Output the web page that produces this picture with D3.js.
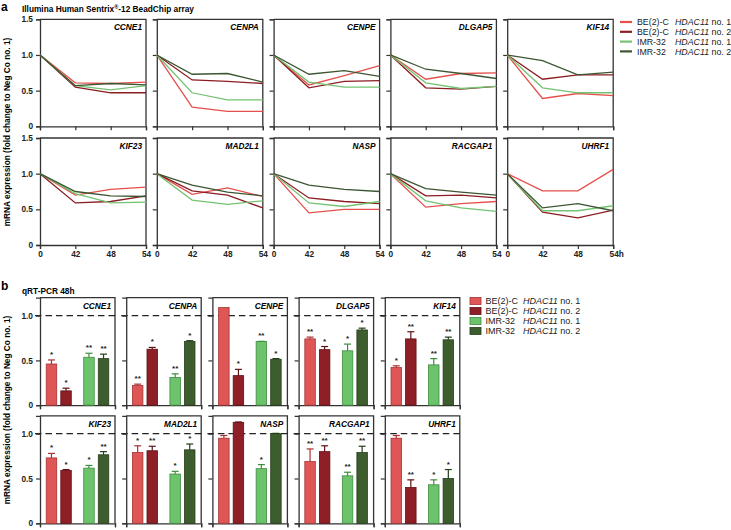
<!DOCTYPE html>
<html><head><meta charset="utf-8">
<script src="https://cdn.jsdelivr.net/npm/d3@7"></script>
<style>body{margin:0;background:#fff}svg{display:block;font-family:"Liberation Sans",Arial,sans-serif}</style>
</head><body><svg id="c" width="731" height="530"></svg>
<script>
// ---------- DATA ----------
const genes = ["CCNE1","CENPA","CENPE","DLGAP5","KIF14","KIF23","MAD2L1","NASP","RACGAP1","UHRF1"];
const timepoints = ["0","42","48","54"];
const cellLines = ["BE(2)-C","BE(2)-C","IMR-32","IMR-32"];
const constructs = ["no. 1","no. 2","no. 1","no. 2"];
const seriesKeys = ["BE1","BE2","IMR1","IMR2"];
// Panel a: array time course (fold change), one row per gene, values at 0/42/48/54 h
const arrayBE1  = [[1,0.61,0.60,0.62],[1,0.27,0.21,0.21],[1,0.58,0.71,0.85],[1,0.66,0.74,0.75],[1,0.39,0.46,0.43],[1,0.70,0.78,0.81],[1,0.71,0.80,0.68],[1,0.45,0.50,0.50],[1,0.53,0.58,0.61],[1,0.76,0.76,1.06]];
const arrayBE2  = [[1,0.55,0.47,0.47],[1,0.65,0.63,0.60],[1,0.54,0.63,0.64],[1,0.54,0.52,0.56],[1,0.66,0.72,0.72],[1,0.59,0.61,0.69],[1,0.76,0.70,0.52],[1,0.66,0.61,0.58],[1,0.69,0.70,0.66],[1,0.46,0.38,0.49]];
const arrayIMR1 = [[1,0.57,0.51,0.57],[1,0.47,0.37,0.37],[1,0.62,0.55,0.55],[1,0.61,0.53,0.56],[1,0.54,0.47,0.47],[1,0.72,0.59,0.60],[1,0.63,0.57,0.62],[1,0.59,0.54,0.61],[1,0.62,0.52,0.47],[1,0.48,0.48,0.55]];
const arrayIMR2 = [[1,0.57,0.60,0.58],[1,0.73,0.74,0.62],[1,0.73,0.78,0.70],[1,0.80,0.74,0.67],[1,0.92,0.72,0.76],[1,0.75,0.69,0.68],[1,0.84,0.74,0.69],[1,0.84,0.78,0.75],[1,0.79,0.74,0.70],[1,0.52,0.58,0.48]];
// Panel b: qRT-PCR 48h means, SEM and significance
const pcrBE1  = [0.46,0.22,1.09,0.74,0.42,0.73,0.79,0.95,0.69,0.95];
const pcrBE1Err  = [0.045,0.015,0.0,0.02,0.02,0.05,0.075,0.03,0.14,0.03];
const pcrBE2  = [0.16,0.625,0.33,0.62,0.74,0.59,0.81,1.127,0.80,0.40];
const pcrBE2Err  = [0.03,0.02,0.07,0.035,0.08,0.01,0.05,0.004,0.065,0.085];
const pcrIMR1 = [0.535,0.31,0.71,0.607,0.45,0.616,0.55,0.61,0.53,0.43];
const pcrIMR1Err = [0.045,0.04,0.003,0.075,0.07,0.03,0.03,0.045,0.04,0.055];
const pcrIMR2 = [0.52,0.71,0.513,0.84,0.73,0.765,0.82,1.0,0.79,0.50];
const pcrIMR2Err = [0.05,0.01,0.007,0.02,0.03,0.035,0.065,0.004,0.07,0.10];
const starsBE1  = ["*","**","","**","*","*","*","","**",""];
const starsBE2  = ["*","*","*","*","**","*","**","","**","**"];
const starsIMR1 = ["**","**","**","*","**","*","*","*","**","*"];
const starsIMR2 = ["**","*","*","*","**","**","*","","**","*"];
const yTicksA = [0,0.5,1.0,1.5];
const yTicksB = [0,0.5,1.0];

// ---------- STYLE ----------
const lineColors = ["#e5504c","#8c1d22","#74c372","#3b5630"];
const barFill    = ["#df5656","#8e1f26","#6cc36b","#3e5d2e"];
const barStroke  = ["#a83232","#5e1016","#3f8c3e","#253d1a"];
const axisCol = "#333";

const svg = d3.select("#c");
const fmt = d => d === 0 ? "0" : d3.format(".1f")(d);
const arraySeries = [arrayBE1, arrayBE2, arrayIMR1, arrayIMR2];
const pcrSeries = [pcrBE1, pcrBE2, pcrIMR1, pcrIMR2];
const pcrErr = [pcrBE1Err, pcrBE2Err, pcrIMR1Err, pcrIMR2Err];
const stars = [starsBE1, starsBE2, starsIMR1, starsIMR2];

// ---------- PANEL A ----------
svg.append("text").attr("x",1).attr("y",11).attr("font-size",12).attr("font-weight","bold").text("a");
svg.append("text").attr("x",22).attr("y",12).attr("font-size",8.3).attr("font-weight","bold")
  .html("Illumina Human Sentrix<tspan font-size='5.5' dy='-3'>®</tspan><tspan dy='3'>-12 BeadChip array</tspan>");

const aW = 106, aH = 107, aStep = 116.8;
const aTops = [19.3, 138];
const xA = d3.scalePoint().domain(timepoints).range([0, aW]);
const yA = d3.scaleLinear().domain([0,1.5]).range([aH,0]);
const lineGen = d3.line().x((d,i)=>xA(timepoints[i])).y(d=>yA(d));

genes.forEach((g, gi) => {
  const row = Math.floor(gi/5), col = gi%5;
  const gx = 40 + col*aStep, gy = aTops[row];
  const p = svg.append("g").attr("transform",`translate(${gx},${gy})`);
  p.append("path").attr("d",`M0,0H${aW}V${aH}`).attr("fill","none").attr("stroke",axisCol).attr("stroke-width",1.3);
  const ya = p.append("g").call(d3.axisLeft(yA).tickValues(yTicksA).tickSize(4).tickFormat(col===0?fmt:""));
  const xa = p.append("g").attr("transform",`translate(0,${aH})`)
    .call(d3.axisBottom(xA).tickSize(4).tickFormat(row===1 ? ((d,i)=> (col===4 && i===3) ? "54h" : d) : ""));
  [ya, xa].forEach(a => {
    a.select(".domain").attr("stroke",axisCol).attr("stroke-width",1.3);
    a.selectAll(".tick line").attr("stroke",axisCol).attr("stroke-width",1.2);
    a.selectAll("text").attr("font-family","Liberation Sans, Arial").attr("font-size",8.3).attr("font-weight","bold").attr("fill","#222");
  });
  ya.selectAll("text").attr("x",-7);
  xa.selectAll("text").attr("y",6);
  if (row===1 && col===4) xa.selectAll(".tick:last-of-type text").attr("dx",3);
  arraySeries.forEach((s, si) => {
    p.append("path").datum(s[gi]).attr("d",lineGen).attr("fill","none")
      .attr("stroke",lineColors[si]).attr("stroke-width",1.3);
  });
  p.append("text").attr("x",aW-4).attr("y",11).attr("text-anchor","end")
    .attr("font-size",8.3).attr("font-weight","bold").attr("font-style","italic").text(g);
});

svg.append("text").attr("transform","translate(10,132) rotate(-90)").attr("text-anchor","middle")
  .attr("font-size",8.3).attr("font-weight","bold").text("mRNA expression (fold change to Neg Co no. 1)");

// legend a
seriesKeys.forEach((k,i) => {
  const ly = 22 + i*9.8;
  svg.append("line").attr("x1",620).attr("x2",632).attr("y1",ly).attr("y2",ly).attr("stroke",lineColors[i]).attr("stroke-width",2.2);
  svg.append("text").attr("x",637).attr("y",ly+3.2).attr("font-size",8.8).attr("fill","#222").text(cellLines[i]);
  svg.append("text").attr("x",675).attr("y",ly+3.2).attr("font-size",8.8).attr("fill","#222")
    .html(`<tspan font-style="italic">HDAC11</tspan> ${constructs[i]}`);
});

// ---------- PANEL B ----------
svg.append("text").attr("x",1).attr("y",290).attr("font-size",12).attr("font-weight","bold").text("b");
svg.append("text").attr("x",22).attr("y",293.5).attr("font-size",8.3).attr("font-weight","bold").text("qRT-PCR 48h");

const bW = 75, bH = 107.5, bStep = 86.2;
const bTops = [297.7, 415.8];
const groups = ["BE(2)-C","IMR-32"];
const xOuter = d3.scaleBand().domain(groups).range([0,bW]).paddingInner(0.2).paddingOuter(0.1);
const xInner = d3.scaleBand().domain(["no. 1","no. 2"]).range([0,xOuter.bandwidth()]).paddingInner(0.28).paddingOuter(0.17);
const yB = d3.scaleLinear().domain([0,1.2]).range([bH,0]);

genes.forEach((g, gi) => {
  const row = Math.floor(gi/5), col = gi%5;
  const gx = 40 + col*bStep, gy = bTops[row];
  const p = svg.append("g").attr("transform",`translate(${gx},${gy})`);
  p.append("path").attr("d",`M0,0H${bW}V${bH}`).attr("fill","none").attr("stroke",axisCol).attr("stroke-width",1.3);
  p.append("line").attr("x1",-5).attr("x2",bW).attr("y1",yB(1)).attr("y2",yB(1))
    .attr("stroke","#222").attr("stroke-width",1.3).attr("stroke-dasharray","6.5,4");
  const ya = p.append("g").call(d3.axisLeft(yB).tickValues(yTicksB).tickSize(4).tickFormat(col===0?fmt:""));
  const xa = p.append("g").attr("transform",`translate(0,${bH})`)
    .call(d3.axisBottom(d3.scaleLinear().domain([0,1]).range([0,bW])).tickValues([0,1]).tickSize(4).tickFormat(""));
  [ya, xa].forEach(a => {
    a.select(".domain").attr("stroke",axisCol).attr("stroke-width",1.3);
    a.selectAll(".tick line").attr("stroke",axisCol).attr("stroke-width",1.2);
    a.selectAll("text").attr("font-family","Liberation Sans, Arial").attr("font-size",8.3).attr("font-weight","bold").attr("fill","#222");
  });
  ya.selectAll("text").attr("x",-7);
  pcrSeries.forEach((s, si) => {
    const v = s[gi], e = pcrErr[si][gi];
    const bx = xOuter(groups[Math.floor(si/2)]) + xInner(constructs[si]);
    const bw = xInner.bandwidth();
    p.append("rect").attr("x",bx).attr("y",yB(v)).attr("width",bw).attr("height",bH-yB(v))
      .attr("fill",barFill[si]).attr("stroke",barStroke[si]).attr("stroke-width",0.8);
    const cx = bx + bw/2;
    if (e > 0) {
      p.append("line").attr("x1",cx).attr("x2",cx).attr("y1",yB(v)).attr("y2",yB(v+e)).attr("stroke",barStroke[si]).attr("stroke-width",1.2);
      p.append("line").attr("x1",cx-3.5).attr("x2",cx+3.5).attr("y1",yB(v+e)).attr("y2",yB(v+e)).attr("stroke",barStroke[si]).attr("stroke-width",1.2);
    }
    if (stars[si][gi]) {
      p.append("text").attr("x",cx).attr("y",yB(v+e)-3).attr("text-anchor","middle")
        .attr("font-size",8).attr("font-weight","bold").attr("fill","#222").text(stars[si][gi]);
    }
  });
  p.append("text").attr("x",bW-4).attr("y",11).attr("text-anchor","end")
    .attr("font-size",8.3).attr("font-weight","bold").attr("font-style","italic").text(g);
});

svg.append("text").attr("transform","translate(10,410) rotate(-90)").attr("text-anchor","middle")
  .attr("font-size",8.3).attr("font-weight","bold").text("mRNA expression (fold change to Neg Co no. 1)");

// legend b
seriesKeys.forEach((k,i) => {
  const ly = 301 + i*10;
  svg.append("rect").attr("x",470).attr("y",ly-3.5).attr("width",11).attr("height",7)
    .attr("fill",barFill[i]).attr("stroke",barStroke[i]).attr("stroke-width",0.8);
  svg.append("text").attr("x",485.5).attr("y",ly+3.2).attr("font-size",9).attr("fill","#222").text(cellLines[i]);
  svg.append("text").attr("x",523).attr("y",ly+3.2).attr("font-size",9).attr("fill","#222")
    .html(`<tspan font-style="italic">HDAC11</tspan> ${constructs[i]}`);
});
</script></body></html>
